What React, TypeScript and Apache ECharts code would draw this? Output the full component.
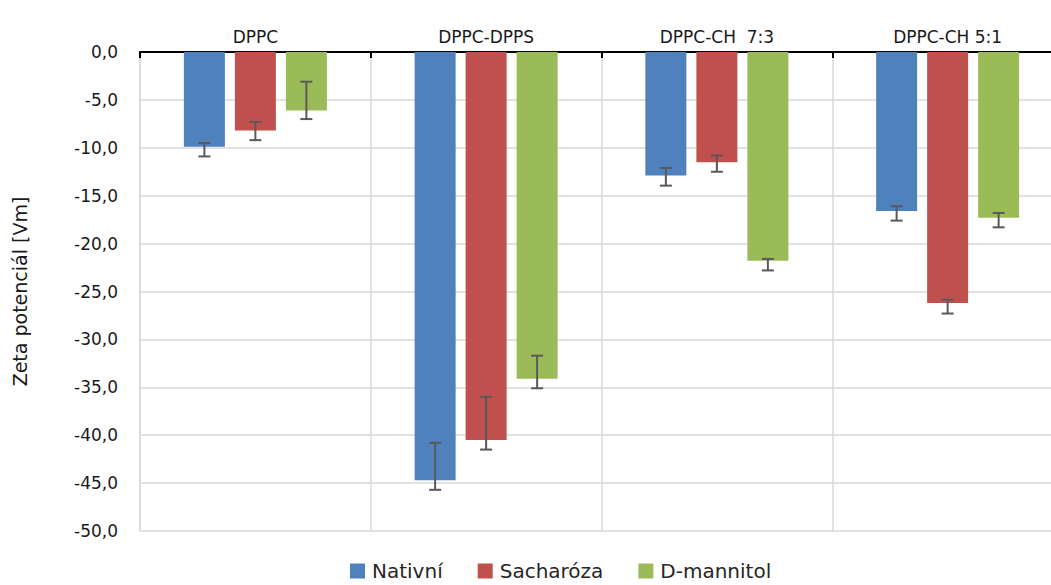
import React, { useEffect, useRef } from "react";
import * as echarts from "echarts";

const categories = ["DPPC", "DPPC-DPPS", "DPPC-CH  7:3", "DPPC-CH 5:1"];
const seriesNames = ["Nativní", "Sacharóza", "D-mannitol"];

const nativni = [-9.9, -44.7, -12.9, -16.6];
const sacharoza = [-8.2, -40.5, -11.5, -26.2];
const mannitol = [-6.1, -34.1, -21.8, -17.3];

const nativniErrTop = [-9.5, -40.8, -12.1, -16.1];
const nativniErrBottom = [-10.9, -45.7, -13.95, -17.6];
const sacharozaErrTop = [-7.3, -36.0, -10.8, -25.85];
const sacharozaErrBottom = [-9.2, -41.5, -12.5, -27.3];
const mannitolErrTop = [-3.1, -31.7, -21.6, -16.8];
const mannitolErrBottom = [-7.0, -35.1, -22.8, -18.3];

const yTicks = { min: -50, max: 0, interval: 5 };

const colors = ["#4F81BD", "#C0504D", "#9BBB59"];
const FONT = "DejaVu Sans";
const BAR_W = 41;
const BAR_GAP = 10;

function errorSeries(top: number[], bottom: number[], idx: number) {
  const offset = (idx - 1) * (BAR_W + BAR_GAP);
  return {
    type: "custom",
    name: "err" + idx,
    z: 10,
    silent: true,
    data: categories.map((_, i) => [i, top[i], bottom[i]]),
    encode: { x: 0, y: [1, 2] },
    renderItem: (params: any, api: any) => {
      const c = api.value(0);
      const p1 = api.coord([c, api.value(1)]);
      const p2 = api.coord([c, api.value(2)]);
      const x = p1[0] + offset;
      const hw = 6;
      const style = { stroke: "#595959", lineWidth: 2 };
      return {
        type: "group",
        children: [
          { type: "line", shape: { x1: x, y1: p1[1], x2: x, y2: p2[1] }, style },
          { type: "line", shape: { x1: x - hw, y1: p1[1], x2: x + hw, y2: p1[1] }, style },
          { type: "line", shape: { x1: x - hw, y1: p2[1], x2: x + hw, y2: p2[1] }, style },
        ],
      };
    },
  };
}

export default function App() {
  const ref = useRef<HTMLDivElement>(null);
  useEffect(() => {
    if (!ref.current) return;
    const chart = echarts.init(ref.current, undefined, { renderer: "svg" });
    const values = [nativni, sacharoza, mannitol];
    chart.setOption({
      animation: false,
      color: colors,
      textStyle: { fontFamily: FONT },
      grid: { left: 140, top: 52, width: 923, height: 479, containLabel: false },
      legend: {
        left: 345,
        top: 556,
        data: seriesNames,
        icon: "rect",
        itemWidth: 15,
        itemHeight: 15,
        itemGap: 35,
        textStyle: { fontFamily: FONT, fontSize: 20, color: "#262626", padding: [0, 0, 0, 2] },
      },
      xAxis: {
        type: "category",
        position: "top",
        data: categories,
        axisLine: { onZero: false, lineStyle: { color: "#000", width: 2 } },
        axisTick: { show: true, inside: true, length: 6, lineStyle: { color: "#000", width: 2 } },
        axisLabel: { fontFamily: FONT, fontSize: 17, color: "#1a1a1a", margin: 7 },
        splitLine: { show: true, lineStyle: { color: "#d9d9d9", width: 1.5 } },
      },
      yAxis: {
        type: "value",
        min: yTicks.min,
        max: yTicks.max,
        interval: yTicks.interval,
        name: "Zeta potenciál [Vm]",
        nameLocation: "middle",
        nameRotate: 90,
        nameGap: 111,
        nameTextStyle: { fontFamily: FONT, fontSize: 19, color: "#1a1a1a" },
        axisLine: { show: true, lineStyle: { color: "#d9d9d9", width: 1.5 } },
        axisTick: { show: false },
        axisLabel: {
          fontFamily: FONT,
          fontSize: 17,
          color: "#1a1a1a",
          margin: 22,
          formatter: (v: number) => v.toFixed(1).replace(".", ","),
        },
        splitLine: { show: true, lineStyle: { color: "#d9d9d9", width: 1.5 } },
      },
      series: [
        ...seriesNames.map((name, i) => ({
          type: "bar",
          name,
          data: values[i],
          barWidth: BAR_W,
          barGap: (BAR_GAP / BAR_W) * 100 + "%",
          itemStyle: { color: colors[i] },
        })),
        errorSeries(nativniErrTop, nativniErrBottom, 0),
        errorSeries(sacharozaErrTop, sacharozaErrBottom, 1),
        errorSeries(mannitolErrTop, mannitolErrBottom, 2),
      ],
    });
    return () => chart.dispose();
  }, []);
  return (
    <div style={{ position: "absolute", left: 0, top: 0, width: 1051, height: 585, overflow: "hidden" }}>
      <div ref={ref} style={{ position: "absolute", left: 0, top: 0, width: 1080, height: 585 }} />
    </div>
  );
}
